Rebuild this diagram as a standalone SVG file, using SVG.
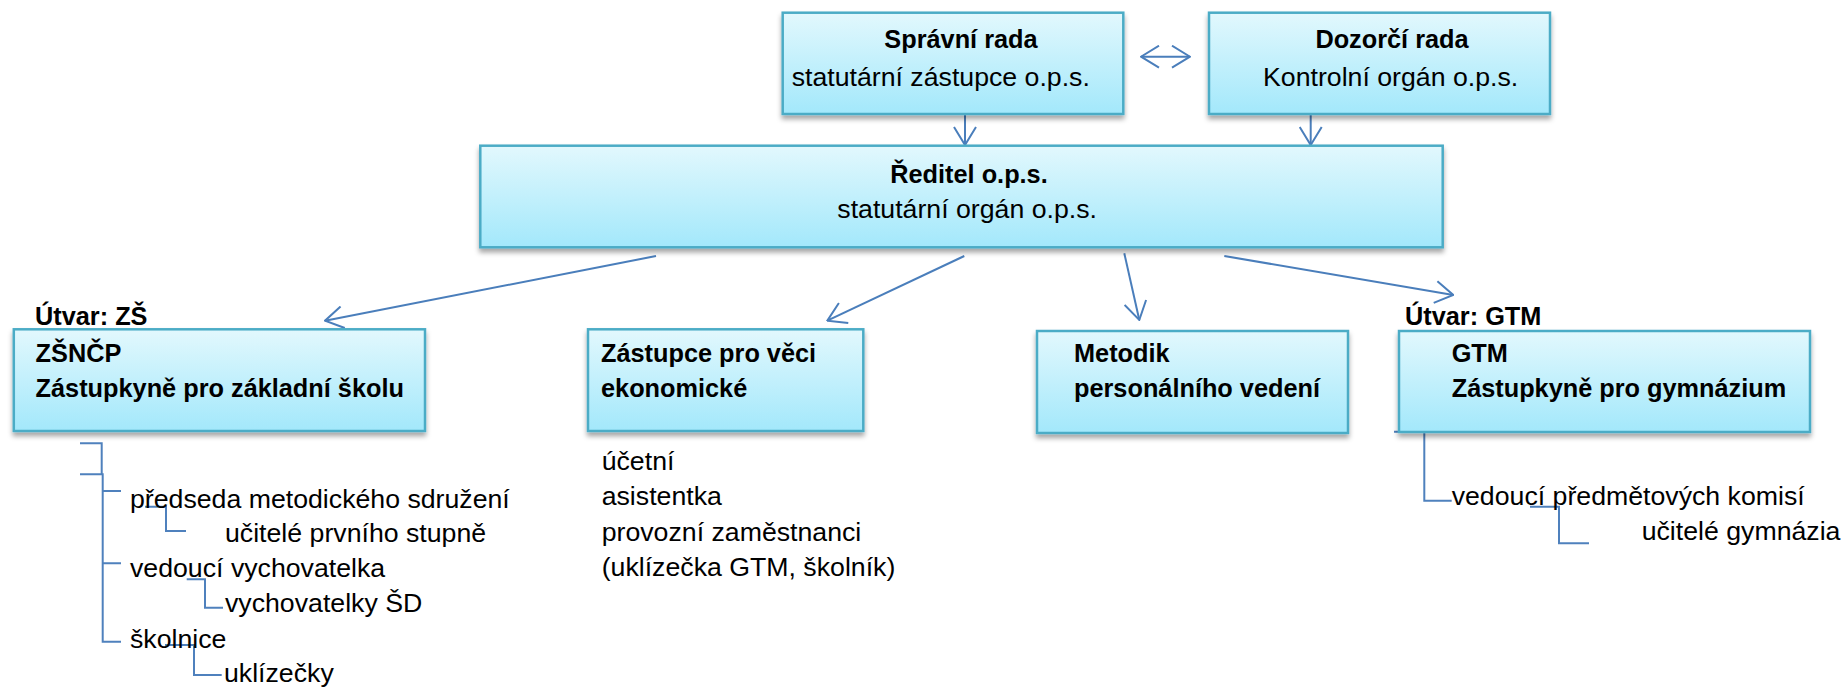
<svg xmlns="http://www.w3.org/2000/svg" width="1843" height="688" viewBox="0 0 1843 688">
<defs>
<linearGradient id="bf" x1="0" y1="0" x2="0" y2="1">
<stop offset="0" stop-color="#e2f8fd"/>
<stop offset="1" stop-color="#a3e8fb"/>
</linearGradient>
<filter id="sh" x="-5%" y="-10%" width="110%" height="130%">
<feDropShadow dx="0" dy="4" stdDeviation="2.5" flood-color="#000" flood-opacity="0.35"/>
</filter>
<marker id="ah" viewBox="0 0 20 24" refX="19" refY="12" markerWidth="20" markerHeight="24" markerUnits="userSpaceOnUse" orient="auto-start-reverse">
<path d="M1,1 L19,12 L1,23" fill="none" stroke="#4a7ebb" stroke-width="2"/>
</marker>
<style>
.box{fill:url(#bf);stroke:#4bacc6;stroke-width:2.5;filter:url(#sh)}
.t{font-family:"Liberation Sans",Arial,sans-serif;font-size:26.7px;fill:#000}
.b{font-family:"Liberation Sans",Arial,sans-serif;font-size:25.3px;font-weight:bold;fill:#000}
.c{fill:none;stroke:#4a7ebb;stroke-width:2}
.k{fill:none;stroke:#4f81bd;stroke-width:2}
</style>
</defs>
<rect width="1843" height="688" fill="#fff"/>

<g id="connectors">
<line class="c" x1="1141" y1="56.7" x2="1190" y2="56.7" marker-start="url(#ah)" marker-end="url(#ah)"/>
<line class="c" x1="965" y1="114" x2="965" y2="145" marker-end="url(#ah)"/>
<line class="c" x1="1310.7" y1="114" x2="1310.7" y2="145" marker-end="url(#ah)"/>
<line class="c" x1="656" y1="256" x2="325" y2="320.7" marker-end="url(#ah)"/>
<line class="c" x1="964.3" y1="256" x2="827.3" y2="320.7" marker-end="url(#ah)"/>
<line class="c" x1="1124.3" y1="253.3" x2="1139.3" y2="320" marker-end="url(#ah)"/>
<line class="c" x1="1224.3" y1="256" x2="1453.3" y2="295" marker-end="url(#ah)"/>
<path class="k" d="M80,443.3 H101.7 V475"/>
<path class="k" d="M80,474.3 H102.7 V641.7 H121 M102.7,491 H121 M102.7,563.3 H121"/>
<path class="k" d="M145,506.7 H166 V531 H186"/>
<path class="k" d="M186.7,579.3 H205 V607.7 H223"/>
<path class="k" d="M165,645 H194 V675 H221.7"/>
<path class="k" d="M1394,431.7 H1424.3 V500.7 H1451.7"/>
<path class="k" d="M1530,506.7 H1559 V543.3 H1589"/>
</g>

<g id="spravni-rada">
<rect class="box" x="782.7" y="12.7" width="340.6" height="101.3"/>
<text class="b" x="961" y="48.3" text-anchor="middle">Správní rada</text>
<text class="t" x="791.7" y="86">statutární zástupce o.p.s.</text>
</g>

<g id="dozorci-rada">
<rect class="box" x="1209" y="12.7" width="341" height="101.3"/>
<text class="b" x="1392" y="48.3" text-anchor="middle">Dozorčí rada</text>
<text class="t" x="1263" y="86">Kontrolní orgán o.p.s.</text>
</g>

<g id="reditel">
<rect class="box" x="480.3" y="145.7" width="962.4" height="101.6"/>
<text class="b" x="969" y="183.3" text-anchor="middle">Ředitel o.p.s.</text>
<text class="t" x="837.3" y="218.3">statutární orgán o.p.s.</text>
</g>

<g id="zs">
<text class="b" x="35" y="325">Útvar: ZŠ</text>
<rect class="box" x="13.8" y="329.3" width="411.2" height="101.7"/>
<text class="b" x="35.6" y="362">ZŠNČP</text>
<text class="b" x="35.6" y="397">Zástupkyně pro základní školu</text>
</g>

<g id="zs-list">
<text class="t" x="130" y="508">předseda metodického sdružení</text>
<text class="t" x="225" y="541.7">učitelé prvního stupně</text>
<text class="t" x="130" y="576.7">vedoucí vychovatelka</text>
<text class="t" x="225" y="611.7">vychovatelky ŠD</text>
<text class="t" x="130" y="648.3">školnice</text>
<text class="t" x="224" y="681.7">uklízečky</text>
</g>

<g id="ekonom">
<rect class="box" x="588" y="329.3" width="275.3" height="101.7"/>
<text class="b" x="601" y="362">Zástupce pro věci</text>
<text class="b" x="601" y="397">ekonomické</text>
</g>

<g id="ekonom-list">
<text class="t" x="601.7" y="470">účetní</text>
<text class="t" x="601.7" y="505">asistentka</text>
<text class="t" x="601.7" y="540.5">provozní zaměstnanci</text>
<text class="t" x="601.7" y="575.5">(uklízečka GTM, školník)</text>
</g>

<g id="metodik">
<rect class="box" x="1037" y="331" width="311" height="102"/>
<text class="b" x="1074" y="362">Metodik</text>
<text class="b" x="1074" y="397">personálního vedení</text>
</g>

<g id="gtm">
<text class="b" x="1405" y="325">Útvar: GTM</text>
<rect class="box" x="1399" y="331" width="411" height="101"/>
<text class="b" x="1451.7" y="361.7">GTM</text>
<text class="b" x="1451.7" y="396.7">Zástupkyně pro gymnázium</text>
</g>

<g id="gtm-list">
<text class="t" x="1451.7" y="505">vedoucí předmětových komisí</text>
<text class="t" x="1641.7" y="540">učitelé gymnázia</text>
</g>
</svg>
